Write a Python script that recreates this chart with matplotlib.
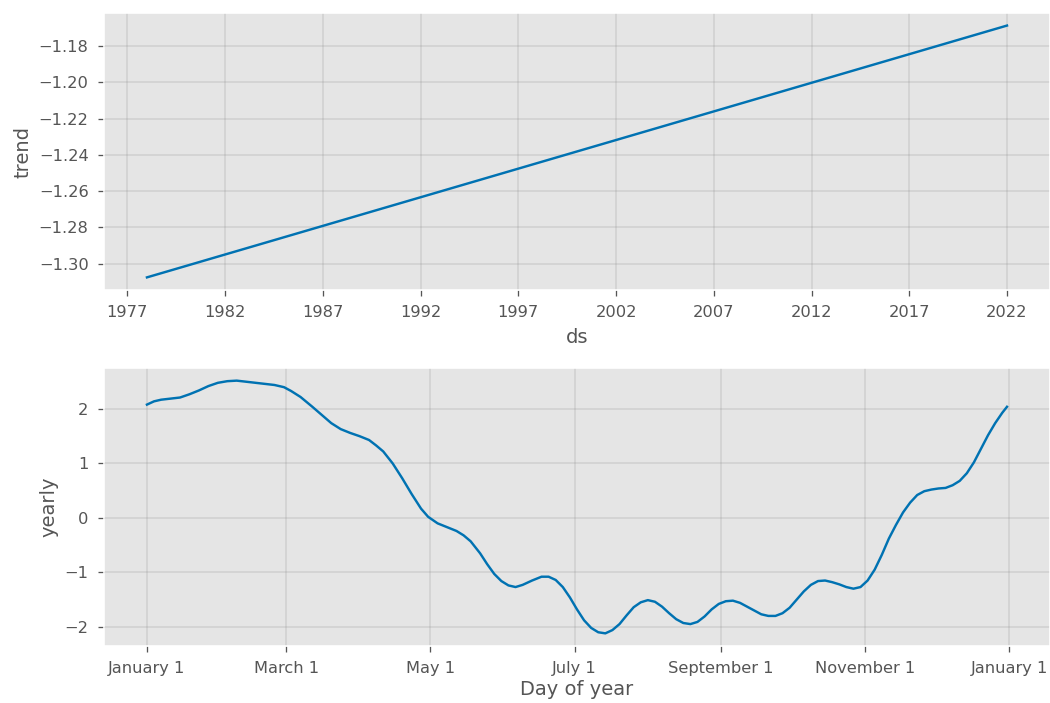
import pandas as pd
import matplotlib
matplotlib.use('Agg')
from matplotlib import pyplot as plt
from matplotlib.dates import DateFormatter, MonthLocator, num2date
from matplotlib.ticker import FuncFormatter

# trend component (start / end of the fitted history)
trend_ds = ['1978-01-01', '2022-01-01']
trend_value = [-1.3076, -1.1686]

# yearly seasonality, day offset from January 1
yearly_day = [0, 3, 6, 10, 14, 18, 22, 26, 30, 34, 38, 42, 46, 50, 54, 58, 61, 65,
              70, 74, 78, 82, 86, 90, 94, 97, 100, 104, 108, 112, 116, 119, 123,
              127, 131, 134, 137, 141, 144, 147, 150, 153, 156, 159, 163, 167, 170,
              173, 176, 179, 182, 185, 188, 191, 194, 197, 200, 203, 206, 209, 212,
              215, 218, 221, 224, 227, 230, 233, 236, 239, 242, 245, 248, 251, 254,
              257, 260, 263, 266, 269, 272, 275, 278, 281, 284, 287, 290, 293, 296,
              299, 302, 305, 308, 311, 314, 317, 320, 323, 326, 329, 332, 335, 338,
              341, 344, 347, 350, 353, 356, 359, 362, 364]
yearly_value = [2.08, 2.14, 2.17, 2.19, 2.21, 2.27, 2.34, 2.42, 2.48, 2.51, 2.52, 2.50,
                2.48, 2.46, 2.44, 2.40, 2.33, 2.22, 2.04, 1.89, 1.74, 1.63, 1.56, 1.50,
                1.43, 1.33, 1.22, 1.00, 0.73, 0.44, 0.17, 0.02, -0.10, -0.17, -0.24,
                -0.32, -0.43, -0.65, -0.85, -1.03, -1.16, -1.24, -1.27, -1.23, -1.15,
                -1.08, -1.08, -1.14, -1.27, -1.46, -1.68, -1.88, -2.02, -2.10, -2.12,
                -2.06, -1.95, -1.79, -1.64, -1.55, -1.51, -1.54, -1.63, -1.75, -1.86,
                -1.93, -1.95, -1.91, -1.81, -1.68, -1.58, -1.53, -1.52, -1.56, -1.63,
                -1.70, -1.77, -1.80, -1.80, -1.75, -1.65, -1.50, -1.35, -1.23, -1.16,
                -1.15, -1.18, -1.22, -1.27, -1.30, -1.27, -1.15, -0.95, -0.68, -0.38,
                -0.13, 0.10, 0.28, 0.42, 0.49, 0.52, 0.54, 0.55, 0.60, 0.68, 0.82,
                1.02, 1.27, 1.52, 1.74, 1.93, 2.04]

trend_years = list(range(1977, 2023, 5))

plt.style.use('ggplot')
plt.rcParams['font.family'] = ['DejaVu Sans']
plt.rcParams['xtick.major.pad'] = 5.5
plt.rcParams['ytick.major.pad'] = 6

fig = plt.figure(figsize=(9, 6.026), dpi=1050 / 9)
ax1 = fig.add_axes([0.099, 0.5875, 0.901, 0.394])
ax2 = fig.add_axes([0.099, 0.0811, 0.901, 0.3954])

# --- trend ---
ds = pd.to_datetime(trend_ds)
ax1.plot(ds.to_pydatetime(), trend_value, ls='-', c='#0072B2')
ax1.set_xticks([pd.Timestamp(f'{y}-01-01').to_pydatetime() for y in trend_years])
ax1.xaxis.set_major_formatter(DateFormatter('%Y'))
ax1.grid(True, which='major', c='gray', ls='-', lw=1, alpha=0.2)
ax1.set_xlabel('ds', labelpad=5.5)
ax1.set_ylabel('trend')

# --- yearly ---
days = pd.Timestamp('2017-01-01') + pd.to_timedelta(yearly_day, unit='D')
ax2.plot(days.to_pydatetime(), yearly_value, ls='-', c='#0072B2')
ax2.xaxis.set_major_locator(MonthLocator(bymonth=range(1, 13), bymonthday=1, interval=2))
ax2.xaxis.set_major_formatter(
    FuncFormatter(lambda x, pos=None: '{dt:%B} {dt.day}'.format(dt=num2date(x))))
ax2.grid(True, which='major', c='gray', ls='-', lw=1, alpha=0.2)
ax2.set_xlabel('Day of year', labelpad=3)
ax2.set_ylabel('yearly')

fig.savefig('out.png')
